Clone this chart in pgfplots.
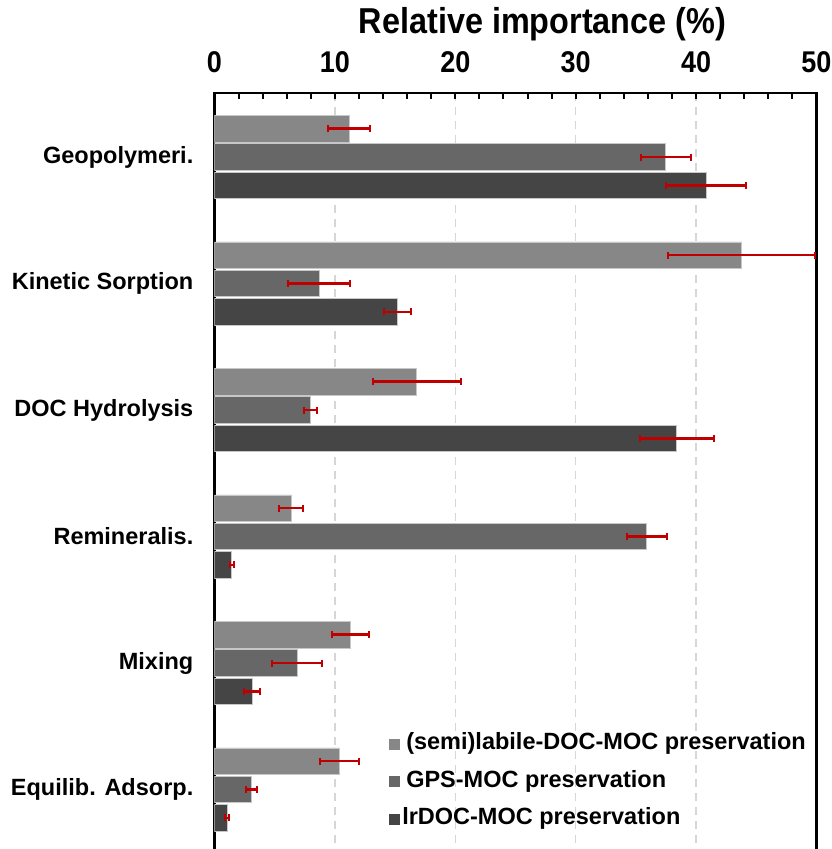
\documentclass[border=0pt]{standalone}
\usepackage{fontspec}
\setmainfont{Liberation Sans}
\newfontfamily\narrowfont[FakeStretch=0.9]{Liberation Sans}
\usepackage{pgfplots}
\usepackage{pgfplotstable}
\pgfplotsset{compat=1.18}

\definecolor{lightbar}{HTML}{878787}
\definecolor{midbar}{HTML}{676767}
\definecolor{darkbar}{HTML}{454545}
\definecolor{errred}{HTML}{C00000}
\definecolor{gridgray}{HTML}{D6D6D6}

% relative importance (%) with standard deviation, one row per process
\pgfplotstableread{
pos labile elabile gps egps lr elr
0 11.17 1.76 37.47 2.07 40.82 3.30
1 43.80 6.10 8.70 2.57 15.20 1.15
2 16.80 3.65 7.95 0.55 38.40 3.05
3 6.39 1.00 35.90 1.65 1.43 0.15
4 11.30 1.53 6.85 2.10 3.14 0.65
5 10.38 1.62 3.08 0.48 1.04 0.15
}\importance

\begin{document}
\begin{tikzpicture}
\begin{axis}[
  scale only axis,
  width=602pt, height=767pt,
  xmin=0, xmax=50,
  ymin=-0.506, ymax=5.557,
  y dir=reverse,
  xbar, bar width=26.5pt, bar shift=0pt,
  axis line style={line width=2.5pt, black},
  xtick={0,10,...,50},
  minor x tick num=4,
  xtick pos=upper, xticklabel pos=upper,
  tick align=inside,
  major tick length=6pt, minor tick length=6pt,
  every tick/.style={black, line width=2pt},
  xmajorgrids,
  major grid style={gridgray, line width=1.3pt, dash pattern=on 8pt off 6pt},
  /pgf/number format/assume math mode=true,
  xticklabel style={font=\narrowfont\bfseries\fontsize{30}{30}\selectfont, inner sep=0pt, yshift=20pt},
  ytick={0,...,5},
  yticklabels={Geopolymeri., Kinetic Sorption, DOC Hydrolysis, Remineralis., Mixing, Equilib. Adsorp.},
  ytick style={draw=none},
  yticklabel style={font=\bfseries\fontsize{23.5}{23.5}\selectfont, inner sep=0pt, xshift=-21pt},
  title={Relative importance (\%)},
  title style={font=\narrowfont\bfseries\fontsize{36}{36}\selectfont, at={(0.545,1)}, anchor=south, inner sep=0pt, yshift=46pt},
  legend cell align=left,
  legend style={draw=none, fill=none, at={(0.285,0.17)}, anchor=north west,
    font=\bfseries\fontsize{23.5}{23.5}\selectfont,
    nodes={inner sep=2pt, text height=16pt, text depth=5pt},
    row sep=12.5pt},
  legend image code/.code={\fill[#1, draw=none] (0pt,-5.5pt) rectangle (11pt,5.5pt);},
  error bars/error bar style={errred, line width=2.5pt},
  error bars/error mark options={errred, line width=2pt, mark size=3.5pt, rotate=90},
]
\addplot[fill=lightbar, draw=black!22, line width=0.8pt,
  error bars/.cd, x dir=both, x explicit]
  table[x=labile, y expr=\thisrow{pos}-0.224, x error=elabile] {\importance};
\addlegendentry{\hspace{4pt}(semi)labile-DOC-MOC preservation}
\addplot[fill=midbar, draw=black!22, line width=0.8pt,
  error bars/.cd, x dir=both, x explicit]
  table[x=gps, y=pos, x error=egps] {\importance};
\addlegendentry{\hspace{4pt}GPS-MOC preservation}
\addplot[fill=darkbar, draw=black!22, line width=0.8pt,
  error bars/.cd, x dir=both, x explicit]
  table[x=lr, y expr=\thisrow{pos}+0.224, x error=elr] {\importance};
\addlegendentry{lrDOC-MOC preservation}
\end{axis}
\pgfresetboundingbox
\path (current axis.north west) ++(-214.5pt,-756pt) rectangle ++(832pt,849pt);
\end{tikzpicture}
\end{document}
